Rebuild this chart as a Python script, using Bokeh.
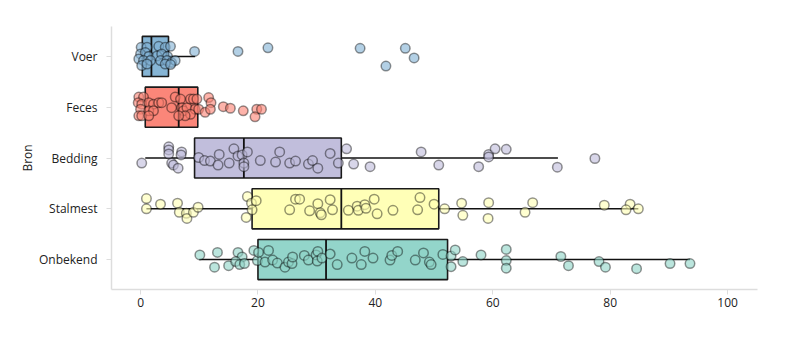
from bokeh.plotting import figure
from bokeh.models import FixedTicker, ColumnDataSource
from bokeh.embed import file_html
from bokeh.resources import INLINE

# ---------------- data ----------------
categories = ["Onbekend", "Stalmest", "Bedding", "Feces", "Voer"]   # bottom -> top
colors = ["#8dd3c7", "#ffffb3", "#bebada", "#fb8072", "#80b1d3"]

q1 = [20.0, 19.0, 9.2, 0.8, 0.3]
median = [31.6, 34.2, 17.6, 6.5, 1.85]
q3 = [52.3, 50.8, 34.2, 9.75, 4.76]
whisker_lo = [10.0, 1.0, 0.8, 0.8, 0.0]
whisker_hi = [93.6, 84.8, 71.1, 9.75, 9.3]

voer_x = [0.1, 1.1, 3.1, 4.2, 5.1, 0.0, 0.8, 1.4, 2.8, 3.6, 4.6, -0.3, 0.5, 1.7, 3.4, 4.5,
          5.3, 5.9, 0.2, 1.1, 4.2, 5.1, 9.2, 16.6, 21.7, 37.4, 45.1, 46.6, 41.8]
voer_jit = [0.18, 0.18, 0.20, 0.18, 0.20, 0.05, 0.08, 0.0, 0.01, 0.05, 0.0, -0.05, -0.08, -0.08,
            -0.08, -0.08, -0.12, -0.08, -0.18, -0.15, -0.15, -0.16, 0.10, 0.10, 0.17, 0.16,
            0.16, -0.03, -0.19]

feces_x = [-0.3, 0.5, -0.4, 0.2, 0.0, -0.3, 0.2, 1.4, 2.2, 3.1, 3.6, 1.4, 2.2, 1.4, 5.3, 5.9,
           6.8, 7.0, 7.3, 7.9, 8.5, 9.0, 9.6, 9.3, 8.5, 7.6, 6.5, 9.9, 11.0, 11.6, 12.0, 11.9,
           14.1, 15.3, 17.5, 19.8, 19.5, 20.6]
feces_jit = [0.20, 0.20, 0.09, 0.06, -0.04, -0.17, -0.17, 0.09, 0.06, 0.09, 0.09, -0.07, -0.07,
             -0.17, -0.01, 0.20, 0.16, -0.01, -0.07, -0.01, 0.16, 0.16, 0.16, -0.04, -0.14,
             -0.17, -0.17, -0.04, -0.10, 0.19, 0.09, -0.04, 0.01, -0.02, -0.07, -0.04, -0.19,
             -0.04]

bedding_x = [0.2, 4.8, 4.8, 4.8, 7.0, 6.9, 5.3, 5.6, 6.4, 9.9, 10.9, 11.9, 13.2, 13.4, 15.1,
             15.9, 16.6, 17.3, 17.6, 17.6, 18.2, 20.4, 23.0, 23.7, 25.4, 26.4, 28.6, 29.3,
             30.2, 32.3, 33.7, 35.1, 36.3, 39.1, 47.8, 50.8, 57.6, 59.3, 59.3, 60.4, 62.3,
             71.0, 77.4]
bedding_jit = [-0.10, 0.22, 0.16, 0.08, 0.12, 0.06, -0.10, -0.14, -0.20, 0.01, -0.05, -0.06,
               -0.14, 0.07, -0.10, 0.18, 0.04, 0.06, -0.10, -0.17, 0.12, -0.05, -0.08, 0.12,
               -0.10, -0.06, -0.12, -0.05, -0.20, 0.09, -0.10, 0.18, -0.12, -0.17, 0.12, -0.14,
               -0.17, 0.07, 0.02, 0.18, 0.17, -0.18, -0.01]

stalmest_x = [1.0, 1.0, 3.4, 6.3, 6.6, 7.8, 7.9, 9.0, 9.8, 18.2, 18.9, 19.0, 18.0, 19.7, 25.4,
              26.4, 27.1, 28.8, 30.2, 30.6, 30.8, 32.3, 32.7, 35.4, 36.9, 37.1, 38.2, 38.4,
              39.8, 40.3, 43.0, 47.2, 47.6, 50.0, 51.8, 54.7, 54.9, 59.3, 59.2, 65.5, 66.8,
              79.0, 83.4, 82.7, 84.8]
stalmest_jit = [0.20, 0.0, 0.09, 0.11, -0.07, -0.09, -0.19, -0.07, 0.03, 0.24, 0.11, -0.02,
                -0.17, 0.16, -0.02, 0.19, 0.19, -0.04, 0.10, -0.08, -0.12, 0.18, -0.02, -0.03,
                0.05, -0.03, 0.08, 0.01, 0.19, -0.10, -0.03, -0.02, 0.22, 0.09, 0.0, 0.11,
                -0.13, 0.12, -0.19, -0.07, 0.12, 0.07, 0.09, -0.02, 0.0]

onbekend_x = [10.1, 13.1, 12.6, 15.0, 16.6, 17.3, 16.2, 16.9, 17.7, 19.3, 19.9, 20.1, 21.2,
              21.8, 22.5, 23.3, 24.6, 25.2, 25.8, 25.9, 27.9, 28.6, 29.9, 30.2, 30.1, 30.9,
              32.3, 33.5, 36.0, 37.6, 38.2, 39.6, 42.5, 42.8, 43.8, 46.8, 48.2, 49.2, 49.5,
              51.5, 52.9, 52.9, 53.6, 54.9, 58.0, 62.3, 62.3, 62.3, 71.6, 72.9, 78.1, 79.2,
              84.5, 90.2, 93.6]
onbekend_jit = [0.09, 0.14, -0.15, -0.12, 0.14, 0.05, -0.04, -0.10, -0.08, 0.18, -0.02, 0.14,
                -0.05, 0.18, -0.01, -0.07, -0.15, -0.05, -0.08, 0.05, 0.08, -0.01, 0.09, 0.16,
                -0.03, 0.03, 0.11, -0.10, 0.03, -0.10, 0.16, 0.03, -0.01, 0.08, 0.16, -0.01,
                0.13, -0.05, -0.10, 0.10, 0.07, -0.14, 0.19, -0.04, 0.09, 0.20, -0.02, -0.17,
                0.06, -0.12, -0.04, -0.15, -0.18, -0.08, -0.08]

x_ticks = [0, 20, 40, 60, 80, 100]
y_label = "Bron"

points = {
    "Onbekend": (onbekend_x, onbekend_jit),
    "Stalmest": (stalmest_x, stalmest_jit),
    "Bedding": (bedding_x, bedding_jit),
    "Feces": (feces_x, feces_jit),
    "Voer": (voer_x, voer_jit),
}

# ---------------- figure ----------------
FONT = "Open Sans"
p = figure(width=800, height=353, output_backend="svg", toolbar_location=None,
           x_range=(-4.95, 105.1), y_range=(-0.59, 4.59),
           min_border_left=111, min_border_right=43, min_border_top=26, min_border_bottom=64)
p.outline_line_color = None
p.xgrid.visible = False
p.ygrid.visible = False
p.background_fill_color = "white"
p.border_fill_color = "white"

ypos = list(range(len(categories)))
box_h = 0.79

# whiskers
p.segment(x0=whisker_lo, x1=q1, y0=ypos, y1=ypos, line_color="#111", line_width=1.5)
p.segment(x0=q3, x1=whisker_hi, y0=ypos, y1=ypos, line_color="#111", line_width=1.5)
# boxes
p.hbar(y=ypos, left=q1, right=q3, height=box_h, fill_color=colors, fill_alpha=0.95,
       line_color="#1a1a1a", line_width=1.6)
# medians
p.segment(x0=median, x1=median, y0=[y - box_h / 2 for y in ypos],
          y1=[y + box_h / 2 for y in ypos], line_color="#111", line_width=1.8)

# points
for i, cat in enumerate(categories):
    xs, js = points[cat]
    src = ColumnDataSource(dict(x=xs, y=[i + j for j in js]))
    p.scatter("x", "y", source=src, size=9.5, fill_color=colors[i], fill_alpha=0.6,
              line_color="black", line_alpha=0.42, line_width=1.5)

# axes
p.xaxis.ticker = FixedTicker(ticks=x_ticks)
p.yaxis.ticker = FixedTicker(ticks=ypos)
p.yaxis.major_label_overrides = {i: c for i, c in enumerate(categories)}
for ax in (p.xaxis[0], p.yaxis[0]):
    ax.axis_line_color = "#dddddd"
    ax.axis_line_width = 1.5
    ax.major_tick_line_color = "#dddddd"
    ax.major_tick_in = 0
    ax.major_tick_out = 5
    ax.minor_tick_line_color = None
    ax.major_label_text_font = FONT
    ax.major_label_text_font_size = "12px"
    ax.major_label_text_color = "#222222"
p.xaxis.major_label_standoff = 3
p.yaxis.major_label_standoff = 9
p.yaxis.axis_label = y_label
p.yaxis.axis_label_text_font = FONT
p.yaxis.axis_label_text_font_size = "12px"
p.yaxis.axis_label_text_font_style = "normal"
p.yaxis.axis_label_text_color = "#222222"
p.yaxis.axis_label_standoff = 0

open("out.html", "w").write(file_html(p, INLINE))
